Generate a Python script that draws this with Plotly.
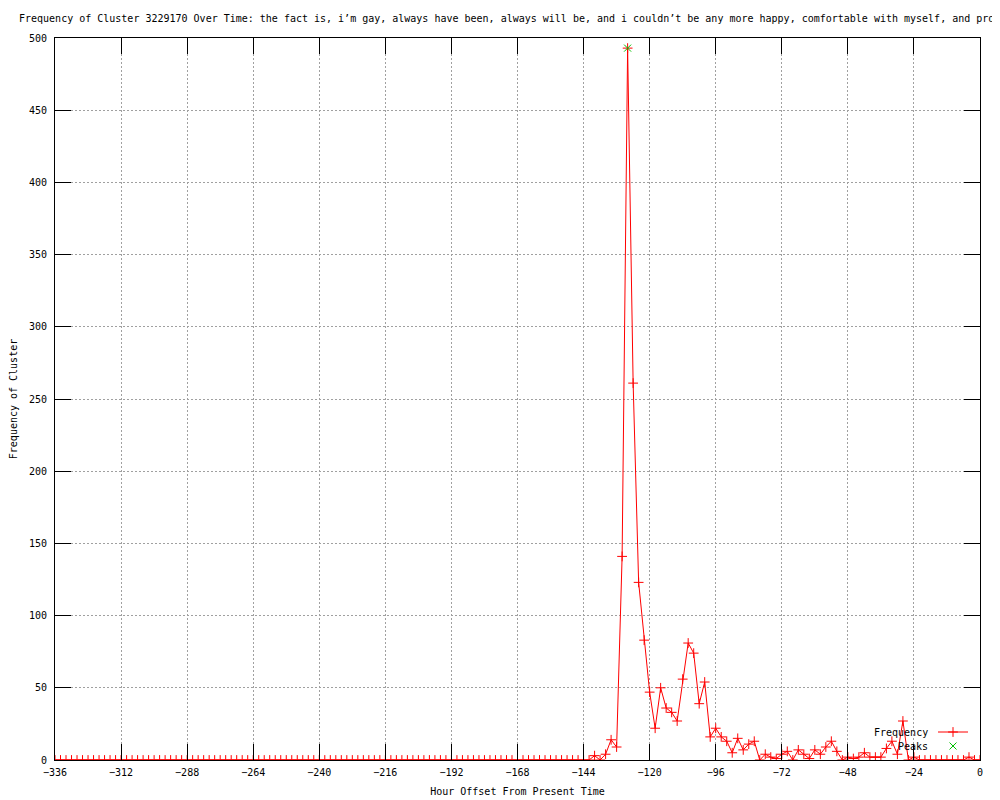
import plotly.graph_objects as go

# ---- data ----
hours = list(range(-336, 1, 2))  # one sample every 2 hours

frequency = [
    # -336 .. -142
    0, 0, 0, 0, 0, 0, 0, 0, 0, 0,
    0, 0, 0, 0, 0, 0, 0, 0, 0, 0,
    0, 0, 0, 0, 0, 0, 0, 0, 0, 0,
    0, 0, 0, 0, 0, 0, 0, 0, 0, 0,
    0, 0, 0, 0, 0, 0, 0, 0, 0, 0,
    0, 0, 0, 0, 0, 0, 0, 0, 0, 0,
    0, 0, 0, 0, 0, 0, 0, 0, 0, 0,
    0, 0, 0, 0, 0, 0, 0, 0, 0, 0,
    0, 0, 0, 0, 0, 0, 0, 0, 0, 0,
    0, 0, 0, 0, 0, 0, 0, 0,
    # -140 .. -122
    3, 0, 4, 14, 9, 141, 493, 261, 123, 83,
    # -120 .. -102
    47, 22, 50, 36, 33, 27, 56, 81, 74, 39,
    # -100 .. -82
    54, 16, 22, 16, 13, 5, 15, 7, 11, 13,
    # -80 .. -62
    0, 4, 2, 1, 4, 6, 0, 7, 4, 1,
    # -60 .. -42
    7, 4, 9, 13, 6, 0, 2, 1, 2, 5,
    # -40 .. -22
    2, 2, 2, 8, 13, 4, 27, 0, 2, 0,
    # -20 .. -2
    0, 0, 0, 0, 0, 0, 0, 0, 2, 0,
    # 0
    0,
]
assert len(frequency) == len(hours)

peak_hours = [-128]
peak_values = [493]

x_ticks = [-336, -312, -288, -264, -240, -216, -192, -168, -144, -120, -96, -72, -48, -24, 0]
y_ticks = [0, 50, 100, 150, 200, 250, 300, 350, 400, 450, 500]

title_text = ("Frequency of Cluster 3229170 Over Time: the fact is, i\u2019m gay, always have been, "
              "always will be, and i couldn\u2019t be any more happy, comfortable with myself, and prou")

FONT = "DejaVu Sans Mono"
RED = "#ff0000"
GREEN = "#00c000"
GRID = "#a0a0a0"

fig = go.Figure()
fig.add_trace(go.Scatter(
    x=hours, y=frequency, mode="lines+markers", name="",
    line=dict(color=RED, width=1),
    marker=dict(symbol="cross-thin", size=7, color=RED, line=dict(color=RED, width=1)),
    legend="legend", showlegend=True,
))
fig.add_trace(go.Scatter(
    x=peak_hours, y=peak_values, mode="markers", name="",
    marker=dict(symbol="x-thin", size=7, color=GREEN, line=dict(color=GREEN, width=1)),
    legend="legend2", showlegend=True,
))

# the page body adds an 8px offset; figure is sized so the plot area lands
# at page pixels x 55..980, y 38..760
OFF = 8
W, H = 992, 792
L, R, T, B = 55 - OFF, 20, 38 - OFF, 40
pw, ph = W - L - R, H - T - B


def px_x(p):  # page pixel -> plot-area paper fraction
    return (p - OFF - L) / pw


def px_y(p):
    return (H - B - (p - OFF)) / ph


axis_common = dict(
    showline=True, linecolor="black", linewidth=1, mirror="ticks",
    ticks="inside", ticklen=16, tickwidth=1, tickcolor="black",
    showgrid=True, gridcolor=GRID, gridwidth=1, griddash="2px,2px",
    zeroline=False, tickfont=dict(family=FONT, size=10, color="black"),
)

fig.update_layout(
    width=W, height=H,
    margin=dict(l=L, r=R, t=T, b=B, autoexpand=False),
    paper_bgcolor="white", plot_bgcolor="white",
    showlegend=True,
    font=dict(family=FONT, size=10, color="black"),
    title=dict(text=title_text, x=(19 - OFF) / W, xanchor="left", xref="container",
               y=1 - (18 - OFF) / H, yanchor="middle", yref="container",
               font=dict(family=FONT, size=10, color="black")),
    xaxis=dict(range=[-336, 0], tickvals=x_ticks,
               ticklabelstandoff=3,
               title=dict(text="Hour Offset From Present Time", standoff=10,
                          font=dict(family=FONT, size=10)),
               **axis_common),
    yaxis=dict(range=[0, 500], tickvals=y_ticks,
               title=dict(text="Frequency of Cluster", standoff=9,
                          font=dict(family=FONT, size=10)),
               ticklabelstandoff=5,
               **axis_common),
    legend=dict(x=px_x(933), y=px_y(732), xanchor="left", yanchor="middle",
                bgcolor="rgba(0,0,0,0)", borderwidth=0, itemwidth=30,
                font=dict(family=FONT, size=10), visible=True),
    legend2=dict(x=px_x(933), y=px_y(746), xanchor="left", yanchor="middle",
                 bgcolor="rgba(0,0,0,0)", borderwidth=0, itemwidth=30,
                 font=dict(family=FONT, size=10), visible=True),
    annotations=[
        dict(text="Frequency", x=px_x(930), y=px_y(732), xref="paper", yref="paper",
             xanchor="right", yanchor="middle", showarrow=False,
             font=dict(family=FONT, size=10, color="black")),
        dict(text="Peaks", x=px_x(930), y=px_y(746), xref="paper", yref="paper",
             xanchor="right", yanchor="middle", showarrow=False,
             font=dict(family=FONT, size=10, color="black")),
    ],
)

fig.write_html("out.html")
